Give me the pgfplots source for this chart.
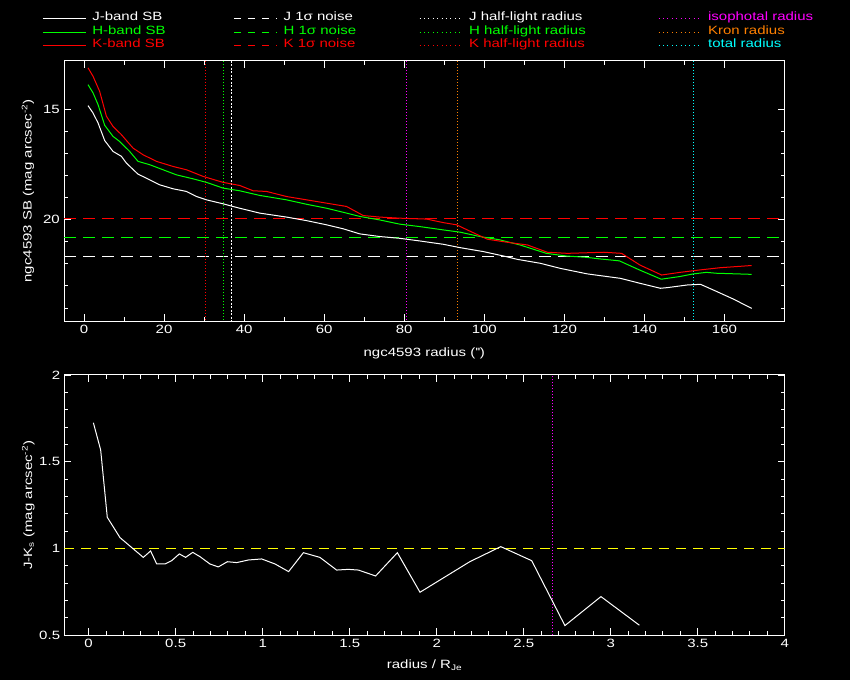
\documentclass[border=0pt]{standalone}
\usepackage{pgfplots}
\pgfplotsset{compat=1.18}
\usepackage{fontspec}
\setmainfont[FakeStretch=1.25]{Liberation Sans}
\definecolor{pgred}{RGB}{255,0,0}
\definecolor{pggreen}{RGB}{0,255,0}
\definecolor{pgmag}{RGB}{255,0,255}
\definecolor{pgorange}{RGB}{255,128,0}
\definecolor{pgcyan}{RGB}{0,255,255}
\definecolor{pgyellow}{RGB}{255,255,0}
\pgfplotsset{
  pgbox/.style={
    scale only axis,
    axis line style={white, line width=1pt},
    every tick/.style={white, line width=0.9pt},
    tick align=inside, tick pos=both,
    major tick length=7pt, minor tick length=4pt,
    ticklabel style={white},
    /pgf/number format/assume math mode=true,
    label style={white},
    every axis y label/.style={rotate=90, anchor=center, white},
    every axis x label/.style={anchor=center, white},
    clip=true,
  },
  dotl/.style={line width=1pt, dash pattern=on 1pt off 2pt},
  dashl/.style={line width=1pt, dash pattern=on 12pt off 7pt},
}
\begin{document}
\fontsize{12}{14}\selectfont
\begin{tikzpicture}
\fill[black] (0pt,0pt) rectangle (850pt,680pt);
\useasboundingbox (0pt,0pt) rectangle (850pt,680pt);
% ---------------- top panel ----------------
\begin{axis}[pgbox,
  at={(64pt,359pt)}, anchor=south west,
  width=720.5pt, height=260pt,
  xmin=-5, xmax=175, ymin=12.83, ymax=24.59, y dir=reverse,
  xtick={0,20,...,160}, minor x tick num=1,
  ytick={15,20,25}, minor y tick num=4,
  xlabel={ngc4593 radius (\textquotesingle\textquotesingle)},
  ylabel={ngc4593 SB (mag arcsec\textsuperscript{-2})},
  x label style={at={(axis description cs:0.5,-0.123)}},
  y label style={at={(axis description cs:-0.05,0.5)}},
  legend columns=4,
  legend image code/.code={\draw[#1] (0pt,0pt) -- (43pt,0pt); \path (49pt,0pt);},
  legend style={at={(axis description cs:-0.0301,1.19)}, anchor=north west,
    draw=none, fill=none, inner sep=0pt, outer sep=0pt,
    row sep=0pt, column sep=0pt,
    nodes={inner sep=0pt, text height=9pt, text depth=4.7pt}},
  legend cell align=left,
]
\addlegendimage{white, line width=1pt}
\addlegendentry{\makebox[141.3pt][l]{\textcolor{white}{J-band SB}}}
\addlegendimage{white, line width=1pt, dash pattern=on 7pt off 7pt}
\addlegendentry{\makebox[135.5pt][l]{\textcolor{white}{J 1σ noise}}}
\addlegendimage{white, line width=1pt, dash pattern=on 1pt off 3.4pt}
\addlegendentry{\makebox[189pt][l]{\textcolor{white}{J half-light radius}}}
\addlegendimage{pgmag, line width=1pt, dash pattern=on 1pt off 3.4pt}
\addlegendentry{\textcolor{pgmag}{isophotal radius}}
\addlegendimage{pggreen, line width=1pt}
\addlegendentry{\makebox[141.3pt][l]{\textcolor{pggreen}{H-band SB}}}
\addlegendimage{pggreen, line width=1pt, dash pattern=on 7pt off 7pt}
\addlegendentry{\makebox[135.5pt][l]{\textcolor{pggreen}{H 1σ noise}}}
\addlegendimage{pggreen, line width=1pt, dash pattern=on 1pt off 3.4pt}
\addlegendentry{\makebox[189pt][l]{\textcolor{pggreen}{H half-light radius}}}
\addlegendimage{pgorange, line width=1pt, dash pattern=on 1pt off 3.4pt}
\addlegendentry{\textcolor{pgorange}{Kron radius}}
\addlegendimage{pgred, line width=1pt}
\addlegendentry{\makebox[141.3pt][l]{\textcolor{pgred}{K-band SB}}}
\addlegendimage{pgred, line width=1pt, dash pattern=on 7pt off 7pt}
\addlegendentry{\makebox[135.5pt][l]{\textcolor{pgred}{K 1σ noise}}}
\addlegendimage{pgred, line width=1pt, dash pattern=on 1pt off 3.4pt}
\addlegendentry{\makebox[189pt][l]{\textcolor{pgred}{K half-light radius}}}
\addlegendimage{pgcyan, line width=1pt, dash pattern=on 1pt off 3.4pt}
\addlegendentry{\textcolor{pgcyan}{total radius}}
% noise levels
\addplot[forget plot, pgred, dashl] coordinates {(-5,19.95) (175,19.95)};
\addplot[forget plot, pggreen, dashl] coordinates {(-5,20.80) (175,20.80)};
\addplot[forget plot, white, dashl] coordinates {(-5,21.66) (175,21.66)};
% radii
\addplot[forget plot, pgred, dotl] coordinates {(30.25,12.83) (30.25,24.59)};
\addplot[forget plot, pggreen, dotl] coordinates {(34.75,12.83) (34.75,24.59)};
\addplot[forget plot, white, line width=1pt, dash pattern=on 2pt off 1.5pt] coordinates {(36.75,12.83) (36.75,24.59)};
\addplot[forget plot, pgmag, dotl] coordinates {(80.5,12.83) (80.5,24.59)};
\addplot[forget plot, pgorange, dotl] coordinates {(93.3,12.83) (93.3,24.59)};
\addplot[forget plot, pgcyan, dotl] coordinates {(152.25,12.83) (152.25,24.59)};
% J band
\addplot[forget plot, white, line width=1pt] coordinates {
(1.0,14.85) (2.25,15.18) (3.5,15.63) (5.17,16.43) (7.25,16.92) (9.33,17.14) (10.6,17.45) (13.5,17.95) (15.6,18.13) (18.9,18.43) (22.25,18.61) (25.6,18.73) (28.1,18.96) (30.6,19.11) (34.75,19.29) (38.9,19.49) (43.9,19.71) (50.6,19.89) (55.6,20.05) (60.6,20.24) (64.75,20.42) (68.9,20.65) (73.9,20.77) (78.9,20.85) (83.9,20.97) (89.75,21.12) (93.9,21.27) (99.75,21.45) (104.8,21.65) (108.2,21.80) (114,21.98) (119,22.21) (125.75,22.46) (134,22.66) (139,22.89) (144,23.11) (145.75,23.08) (150.75,22.96) (154,22.93) (157.25,23.19) (162.25,23.6) (166.8,24.02)};
% H band
\addplot[forget plot, pggreen, line width=1pt] coordinates {
(1.0,13.90) (2.25,14.27) (3.5,14.80) (5.17,15.74) (7.25,16.24) (8.9,16.47) (11.4,16.92) (13.5,17.37) (16.4,17.52) (19.75,17.75) (23.1,17.98) (27.25,18.16) (30.6,18.32) (34.75,18.58) (38.9,18.70) (43.9,18.91) (50.6,19.11) (55.6,19.31) (60.6,19.49) (65.6,19.71) (68.9,19.86) (73.9,20.02) (78.9,20.21) (83.9,20.32) (89.75,20.47) (93.9,20.57) (98.9,20.77) (103.9,20.92) (108.9,21.15) (115.5,21.53) (120.5,21.65) (125.5,21.71) (128.8,21.78) (133.75,21.87) (138.75,22.28) (144.2,22.70) (148.8,22.58) (152.2,22.46) (155.5,22.39) (158,22.43) (166.8,22.48)};
% K band
\addplot[forget plot, pgred, line width=1pt] coordinates {
(1.0,13.14) (2.25,13.52) (3.9,14.20) (5.6,15.33) (7.25,15.79) (9.33,16.16) (12.25,16.77) (14.75,17.07) (18.1,17.37) (22.25,17.60) (25.6,17.75) (29.75,18.05) (34.75,18.32) (38.9,18.46) (42.25,18.70) (45.6,18.73) (50.6,18.96) (55.6,19.11) (60.6,19.26) (65.6,19.41) (69.75,19.82) (73.9,19.89) (78.9,19.94) (85.6,19.98) (89.75,20.14) (93.1,20.24) (95.75,20.47) (100.75,20.89) (105.75,21.03) (110.75,21.15) (115.75,21.48) (120.75,21.53) (129.9,21.48) (134.3,21.53) (138.9,22.06) (144.3,22.51) (148.9,22.39) (153.9,22.28) (158.9,22.18) (166.8,22.08)};
\end{axis}
% ---------------- bottom panel ----------------
\begin{axis}[pgbox,
  at={(64.3pt,44.7pt)}, anchor=south west,
  width=720.4pt, height=260.3pt,
  xmin=-0.14, xmax=4, ymin=0.5, ymax=2,
  xtick={0,0.5,...,4}, minor x tick num=4,
  ytick={0.5,1,1.5,2}, minor y tick num=4,
  xlabel={radius / R\textsubscript{Je}},
  ylabel={J-K\textsubscript{s} (mag arcsec\textsuperscript{-2})},
  x label style={at={(axis description cs:0.5,-0.114)}},
  y label style={at={(axis description cs:-0.05,0.5)}},
]
\addplot[pgyellow, line width=1pt, dash pattern=on 10pt off 7pt] coordinates {(-0.14,1) (4,1)};
\addplot[pgmag, dotl] coordinates {(2.667,0.5) (2.667,2)};
\addplot[white, line width=1pt] coordinates {
(0.027,1.725) (0.069,1.568) (0.107,1.18) (0.18,1.063) (0.253,1.001) (0.314,0.949) (0.356,0.986) (0.391,0.911) (0.439,0.911) (0.477,0.930) (0.521,0.969) (0.557,0.949) (0.598,0.978) (0.640,0.953) (0.697,0.911) (0.745,0.894) (0.797,0.924) (0.851,0.919) (0.918,0.934) (0.994,0.940) (1.071,0.911) (1.149,0.867) (1.234,0.976) (1.329,0.949) (1.425,0.876) (1.492,0.880) (1.55,0.876) (1.649,0.842) (1.774,0.976) (1.904,0.748) (2.19,0.924) (2.368,1.011) (2.546,0.930) (2.737,0.556) (2.944,0.723) (3.165,0.558)};
\end{axis}
\end{tikzpicture}
\end{document}
